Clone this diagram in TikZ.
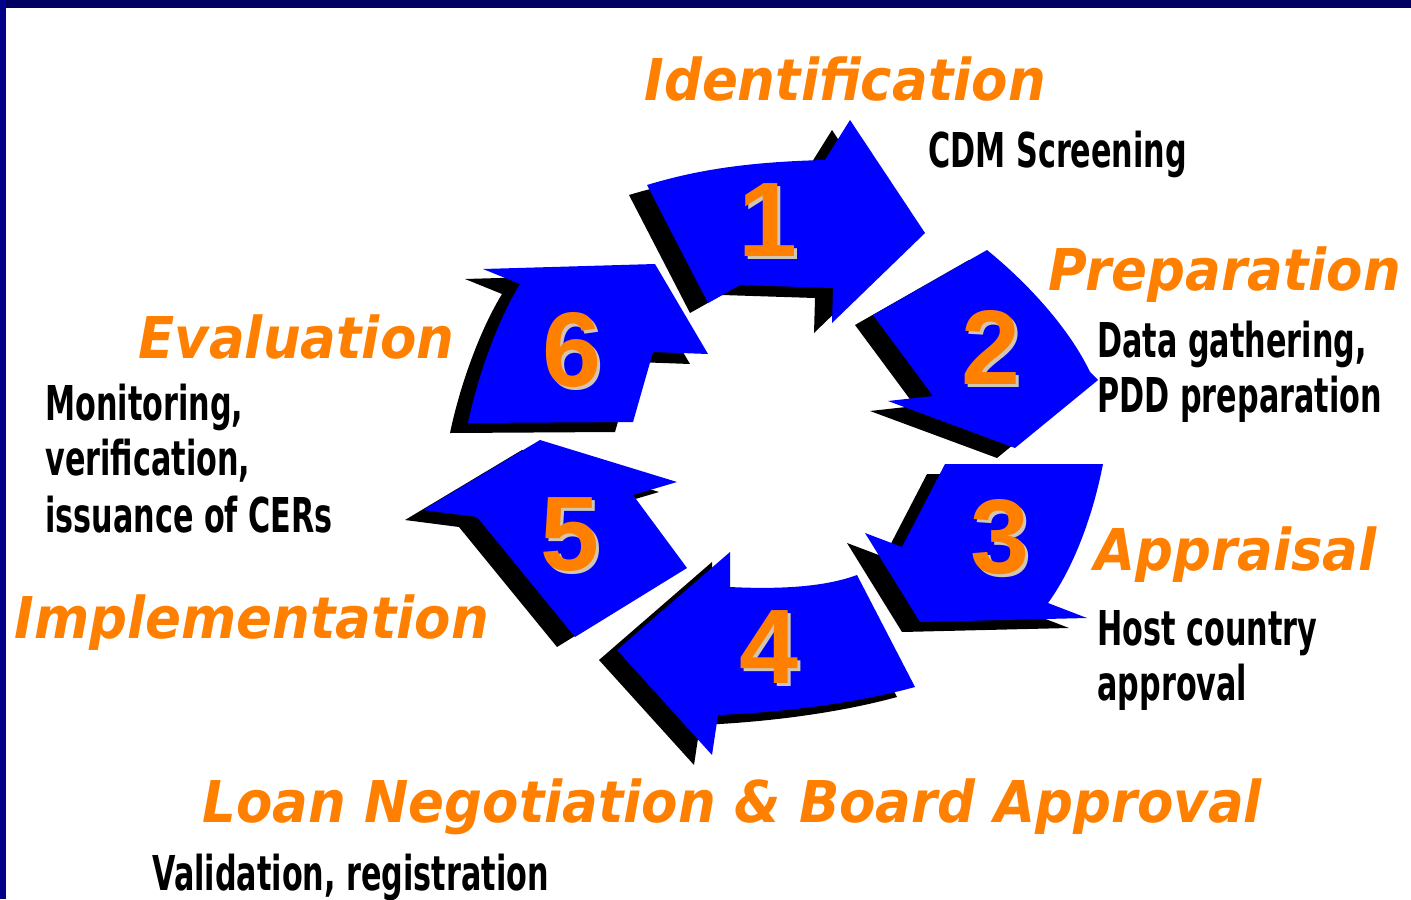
\documentclass[tikz,border=0pt]{standalone}
\usepackage{fontspec}
\usepackage{graphicx}
\newfontfamily\stagefont{DejaVu Sans}[FakeStretch=0.92]
\newfontfamily\descfont{DejaVu Sans}[FakeStretch=0.63]
\newfontfamily\numfont{Liberation Sans}
\definecolor{stageorange}{RGB}{255,128,0}
\definecolor{cycleblue}{RGB}{0,0,255}
\definecolor{numshade}{RGB}{208,198,178}
\definecolor{frametop}{RGB}{0,0,96}
\definecolor{frameleft}{RGB}{0,0,136}
\newcommand\cyclearrow[1]{\fill[arrowshadow] #1; \fill[arrowbody] #1;}
\tikzset{
  stage/.style={anchor=base west,inner sep=0pt,text=stageorange,
    font=\stagefont\bfseries\itshape\fontsize{28.8}{30}\selectfont},
  desc/.style={anchor=base west,inner sep=0pt,
    font=\descfont\bfseries\fontsize{24}{26}\selectfont},
  num/.style={inner sep=0pt,text=stageorange,
    font=\numfont\bfseries\fontsize{53}{53}\selectfont},
  numshade/.style={num,text=numshade},
  arrowbody/.style={fill=cycleblue},
  arrowshadow/.style={fill=black,shift={(-18,10)}},
}
\begin{document}
\begin{tikzpicture}[x=0.5pt,y=-0.5pt]
        \useasboundingbox (0,0) rectangle (1411,899);
        \fill[white] (0,0) rectangle (1411,899);
        \fill[frametop] (0,0) rectangle (1411,8);
        \fill[frameleft] (0,0) rectangle (6,899);
        % the six arrows of the cycle
        \cyclearrow{(647,185) .. controls (690,172) and (740,162) .. (825,160) -- (850,120) -- (925,233) -- (832,323) -- (833,288) -- (740,285) -- (708,303) -- cycle}
        \cyclearrow{(873,315) -- (987,250) .. controls (1030,285) and (1070,330) .. (1090,372) -- (1098,380) -- (1015,448) -- (888,401) -- (933,396) -- cycle}
        \cyclearrow{(945,464) -- (1103,464) .. controls (1092,520) and (1072,570) .. (1048,603) -- (1087,618) -- (920,622) -- (865,533) -- (902,547) -- cycle}
        \cyclearrow{(857,575) .. controls (830,585) and (790,590) .. (730,587) -- (730,552) -- (617,650) -- (712,755) -- (718,715) .. controls (790,712) and (860,702) .. (915,687) -- cycle}
        \cyclearrow{(540,440) -- (677,482) -- (633,495) -- (687,568) -- (575,637) -- (477,517) -- (423,510) -- cycle}
        \cyclearrow{(483,269) -- (655,264) -- (708,354) -- (653,352) -- (633,422) -- (468,423) .. controls (478,375) and (498,320) .. (520,284) -- cycle}
        % numbers
        \foreach \i/\x/\y in {1/768/220,2/991/347,3/1000/537,4/769/647,5/570/535,6/572/350}{
            \node[numshade] (shade\i) at (\x+3,\y+3) {\i};
            \node[num] (num\i) at (\x,\y) {\i};
        }
        % stage names and tasks
        \node[stage] (identification) at (644,100) {Identification};
        \node[desc] (identdesc) at (928,167) {CDM Screening};
        \node[stage] (preparation) at (1048,290) {Preparation};
        \node[desc] (prepdesca) at (1097,357) {Data gathering,};
        \node[desc] (prepdescb) at (1097,412) {PDD preparation};
        \node[stage] (appraisal) at (1094,570) {Appraisal};
        \node[desc] (apprdesca) at (1097,645) {Host country};
        \node[desc] (apprdescb) at (1097,700) {approval};
        \node[stage] (negotiation) at (202,822) {Loan Negotiation \& Board Approval};
        \node[desc] (negodesc) at (152,890) {Validation, registration};
        \node[stage] (implementation) at (14,638) {Implementation};
        \node[stage] (evaluation) at (138,358) {Evaluation};
        \node[desc] (evaldesca) at (45,420) {Monitoring,};
        \node[desc] (evaldescb) at (45,475) {verification,};
        \node[desc] (evaldescc) at (45,532) {issuance of CERs};
    \end{tikzpicture}
\end{document}
